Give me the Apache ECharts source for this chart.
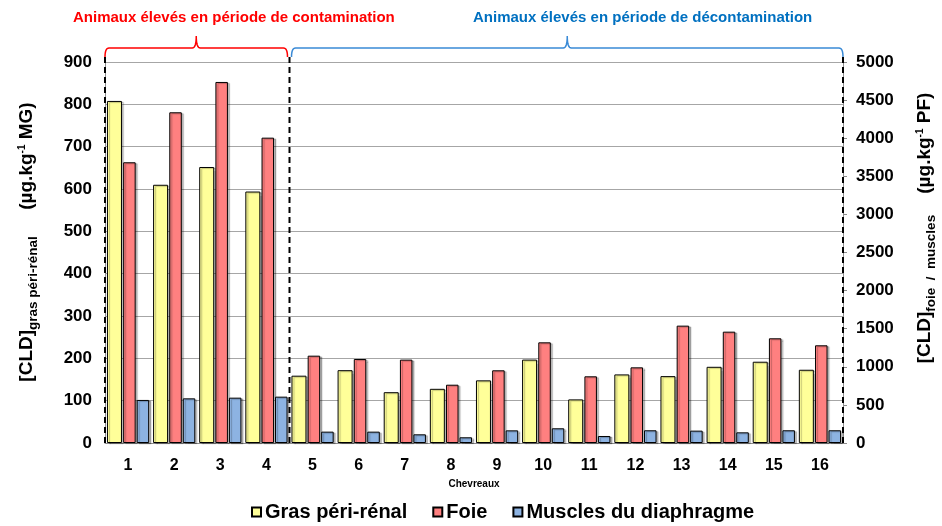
<!DOCTYPE html>
<html>
<head>
<meta charset="utf-8">
<script src="https://cdn.jsdelivr.net/npm/echarts@6/dist/echarts.min.js"></script>
<style>
  html, body { margin: 0; padding: 0; background: #ffffff; }
  #chart { width: 942px; height: 526px; }
</style>
</head>
<body>
<div id="chart"></div>
<script>
// Kid goats (chevreaux) 1-16
const chevreaux = ['1', '2', '3', '4', '5', '6', '7', '8', '9', '10', '11', '12', '13', '14', '15', '16'];

// Perirenal fat, µg/kg fat (left axis)
const grasPeriRenal = [808, 610, 652, 594, 159, 172, 120, 128, 148, 197, 103, 162, 158, 180, 192, 173];
// Liver, µg/kg fresh weight (right axis)
const foie = [3684, 4340, 4738, 4007, 1146, 1102, 1094, 765, 954, 1321, 875, 993, 1540, 1461, 1374, 1282];
// Diaphragm muscle, µg/kg fresh weight (right axis)
const musclesDiaphragme = [565, 586, 595, 608, 149, 149, 114, 75, 166, 193, 92, 167, 162, 140, 167, 167];

// Axis scales
const leftMax = 900, leftStep = 100;
const rightMax = 5000, rightStep = 500;

// Group split: animals 1-4 contamination period, 5-16 decontamination period
const nContamination = 4;

const FONT = '"Liberation Sans", Arial, sans-serif';
const chart = echarts.init(document.getElementById('chart'), null, { renderer: 'canvas' });

const barStyle = {
  borderColor: '#000000',
  borderWidth: 1,
  shadowColor: 'rgba(0,0,0,0.25)',
  shadowOffsetX: 2,
  shadowOffsetY: 1,
  shadowBlur: 1
};

chart.setOption({
  animation: false,
  backgroundColor: '#ffffff',
  textStyle: { fontFamily: FONT },
  grid: { left: 105, right: 99, top: 62, bottom: 83, containLabel: false },
  legend: {
    bottom: -1,
    left: 246,
    icon: 'rect',
    itemWidth: 9,
    itemHeight: 9,
    itemGap: 25,
    textStyle: { fontFamily: FONT, fontWeight: 'bold', fontSize: 20, color: '#000', padding: [0, 0, 0, -1] },
    data: ['Gras péri-rénal', 'Foie', 'Muscles du diaphragme']
  },
  xAxis: {
    type: 'category',
    data: chevreaux,
    name: 'Chevreaux',
    nameLocation: 'middle',
    nameGap: 32,
    nameTextStyle: { fontFamily: FONT, fontWeight: 'bold', fontSize: 10, color: '#000' },
    axisLine: { show: true, lineStyle: { color: '#8c8c8c', width: 1 } },
    axisTick: { show: false },
    axisLabel: { fontFamily: FONT, fontWeight: 'bold', fontSize: 16, color: '#000', margin: 15 }
  },
  yAxis: [
    {
      type: 'value',
      position: 'left',
      min: 0,
      max: leftMax,
      interval: leftStep,
      axisLine: { show: true, lineStyle: { color: '#8c8c8c' } },
      axisTick: { show: false },
      axisLabel: { fontFamily: FONT, fontWeight: 'bold', fontSize: 17, color: '#000', margin: 13 },
      splitLine: { show: true, lineStyle: { color: '#a6a6a6', width: 1 } }
    },
    {
      type: 'value',
      position: 'right',
      min: 0,
      max: rightMax,
      interval: rightStep,
      axisLine: { show: true, lineStyle: { color: '#8c8c8c' } },
      axisTick: { show: true, length: 4, inside: false, lineStyle: { color: '#8c8c8c' } },
      axisLabel: {
        fontFamily: FONT, fontWeight: 'bold', fontSize: 17, color: '#000', margin: 13,
        formatter: function (v) { return String(v); }
      },
      splitLine: { show: false }
    }
  ],
  series: [
    {
      name: 'Gras péri-rénal',
      type: 'bar',
      yAxisIndex: 0,
      data: grasPeriRenal,
      barWidth: 15,
      barGap: '8%',
      itemStyle: Object.assign({ color: '#ffff99' }, barStyle)
    },
    {
      name: 'Foie',
      type: 'bar',
      yAxisIndex: 1,
      data: foie,
      barWidth: 12.5,
      barGap: '8%',
      itemStyle: Object.assign({ color: '#ff8080' }, barStyle)
    },
    {
      name: 'Muscles du diaphragme',
      type: 'bar',
      yAxisIndex: 1,
      data: musclesDiaphragme,
      barWidth: 12.5,
      barGap: '8%',
      itemStyle: Object.assign({ color: '#8db3e2' }, barStyle)
    }
  ]
});

// Annotations: dashed separators, period brackets, titles, axis titles
function drawAnnotations() {
  const c0 = chart.convertToPixel({ xAxisIndex: 0 }, 0);
  const c1 = chart.convertToPixel({ xAxisIndex: 0 }, 1);
  const band = c1 - c0;
  const xStart = c0 - band / 2;
  const xSplit = xStart + band * nContamination;
  const xEnd = xStart + band * chevreaux.length;
  const yBase = chart.convertToPixel({ yAxisIndex: 0 }, 0);
  const yTop = chart.convertToPixel({ yAxisIndex: 0 }, leftMax);

  const dashTop = yTop - 5;
  const bracketY = yTop - 14;
  const tipY = yTop - 26;

  function dashed(x) {
    return {
      type: 'line',
      z: 100,
      shape: { x1: x, y1: dashTop, x2: x, y2: yBase },
      style: { stroke: '#000', lineWidth: 2, lineDash: [6, 4] }
    };
  }

  // quadratic curve sampled into points
  function quad(p0, p1, p2, n) {
    const pts = [];
    for (let i = 1; i <= n; i++) {
      const t = i / n, u = 1 - t;
      pts.push([u * u * p0[0] + 2 * u * t * p1[0] + t * t * p2[0],
                u * u * p0[1] + 2 * u * t * p1[1] + t * t * p2[1]]);
    }
    return pts;
  }

  function bracket(xa, xb, color) {
    const xm = (xa + xb) / 2;
    const r = 4;
    let pts = [[xa, dashTop]];
    pts = pts.concat(quad([xa, dashTop], [xa, bracketY], [xa + r, bracketY], 8));
    pts.push([xm - r, bracketY]);
    pts = pts.concat(quad([xm - r, bracketY], [xm, bracketY], [xm, tipY], 8));
    pts = pts.concat(quad([xm, tipY], [xm, bracketY], [xm + r, bracketY], 8));
    pts.push([xb - r, bracketY]);
    pts = pts.concat(quad([xb - r, bracketY], [xb, bracketY], [xb, dashTop], 8));
    return {
      type: 'polyline',
      z: 100,
      shape: { points: pts },
      style: { fill: null, stroke: color, lineWidth: 1.5 }
    };
  }

  const axisTitleRich = {
    m: { fontFamily: FONT, fontWeight: 'bold', fontSize: 19, fill: '#000', lineHeight: 26, verticalAlign: 'middle' },
    sub: { fontFamily: FONT, fontWeight: 'bold', fontSize: 13.5, fill: '#000', lineHeight: 14, verticalAlign: 'bottom' },
    sup: { fontFamily: FONT, fontWeight: 'bold', fontSize: 10, fill: '#000', lineHeight: 12, verticalAlign: 'top', padding: [3, 0, 0, 0] }
  };

  chart.setOption({
    graphic: [
      dashed(xStart),
      dashed(xSplit),
      dashed(xEnd),
      bracket(xStart, xSplit - 2, '#ff0000'),
      bracket(xSplit + 2, xEnd, '#3a8ad6'),
      {
        type: 'text', z: 100, x: 73, y: 18,
        style: {
          text: 'Animaux élevés en période de contamination',
          fontFamily: FONT, fontWeight: 'bold', fontSize: 15, fill: '#ff0000',
          align: 'left', verticalAlign: 'middle'
        }
      },
      {
        type: 'text', z: 100, x: 473, y: 18,
        style: {
          text: 'Animaux élevés en période de décontamination',
          fontFamily: FONT, fontWeight: 'bold', fontSize: 15, fill: '#0070c0',
          align: 'left', verticalAlign: 'middle'
        }
      },
      {
        type: 'text', z: 100, x: 27, y: 242, rotation: Math.PI / 2,
        style: {
          text: '{m|[CLD]}{sub|gras péri-rénal}{m|     (µg.kg}{sup|-1}{m| MG)}',
          rich: axisTitleRich,
          align: 'center', verticalAlign: 'middle'
        }
      },
      {
        type: 'text', z: 100, x: 925, y: 228, rotation: Math.PI / 2,
        style: {
          text: '{m|[CLD]}{sub|foie  /  muscles}{m|    (µg.kg}{sup|-1}{m| PF)}',
          rich: axisTitleRich,
          align: 'center', verticalAlign: 'middle'
        }
      }
    ]
  });
}

drawAnnotations();
</script>
</body>
</html>
